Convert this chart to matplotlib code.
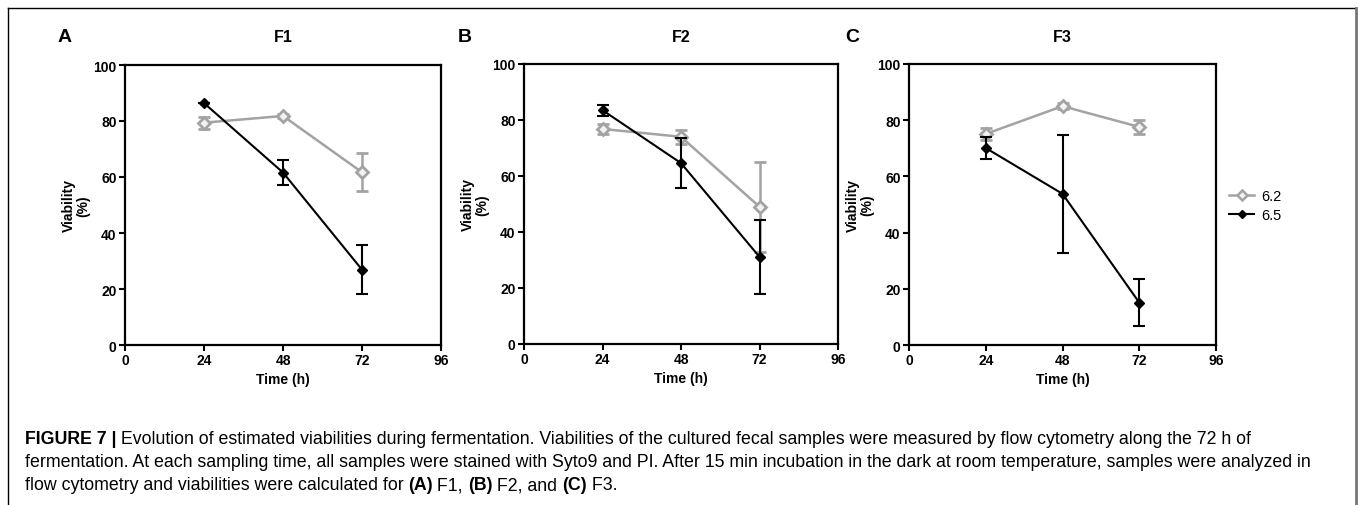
import numpy as np
import matplotlib.pyplot as plt
from matplotlib.lines import Line2D

plt.rcParams['font.family'] = ['Liberation Sans', 'DejaVu Sans']

# Data
time_h = [24, 48, 72]
panels = ['F1', 'F2', 'F3']
panel_letters = ['A', 'B', 'C']

# pH 6.2 (grey) and 6.5 (black): mean and error per panel
ph62_mean = [[79.4, 81.8, 61.7], [76.8, 74.0, 49.0], [75.1, 85.0, 77.6]]
ph62_err = [[2.1, 0.6, 6.7], [1.9, 2.5, 16.0], [2.0, 1.0, 2.5]]
ph65_mean = [[86.4, 61.6, 26.9], [83.5, 64.6, 31.1], [70.1, 53.8, 15.1]]
ph65_err = [[0.0, 4.3, 8.7], [2.0, 9.0, 13.2], [3.8, 21.0, 8.5]]
series_labels = ['6.2', '6.5']

caption_bold = 'FIGURE 7 |'
caption_lines = [
    ' Evolution of estimated viabilities during fermentation. Viabilities of the cultured fecal samples were measured by flow cytometry along the 72 h of',
    'fermentation. At each sampling time, all samples were stained with Syto9 and PI. After 15 min incubation in the dark at room temperature, samples were analyzed in',
    'flow cytometry and viabilities were calculated for',
]

W, H = 1360, 506
fig = plt.figure(figsize=(W / 100, H / 100), dpi=100)

# axes boxes in pixels: left, top, right, bottom
boxes = [(125, 66, 441, 346), (524, 65, 838, 345), (909, 65, 1216, 346)]
letter_x = [65, 465, 852]

grey = '#a3a3a3'
for i, (l, t, r, b) in enumerate(boxes):
    ax = fig.add_axes([l / W, 1 - b / H, (r - l) / W, (b - t) / H])
    ax.errorbar(time_h, ph62_mean[i], yerr=ph62_err[i], color=grey, lw=1.8,
                marker='D', ms=6.5, mfc='#f2f2f2', mec=grey, mew=2,
                capsize=4, capthick=1.8, elinewidth=1.8, zorder=2)
    ax.errorbar(time_h, ph65_mean[i], yerr=ph65_err[i], color='black', lw=1.5,
                marker='D', ms=5.5, mfc='black', mec='black',
                capsize=4, capthick=1.5, elinewidth=1.5, zorder=3)
    ax.set_xlim(0, 96)
    ax.set_ylim(0, 100)
    ax.set_xticks([0, 24, 48, 72, 96])
    ax.set_yticks([0, 20, 40, 60, 80, 100])
    for s in ax.spines.values():
        s.set_linewidth(1.6)
    ax.tick_params(direction='out', length=4, width=1.5, pad=2, labelsize=10)
    for lab in ax.get_xticklabels() + ax.get_yticklabels():
        lab.set_fontweight('bold')
    ax.set_xlabel('Time (h)', fontsize=10, fontweight='bold')
    ax.xaxis.set_label_coords(0.5, -34 / (b - t))
    ax.xaxis.label.set_va('center')
    ax.set_ylabel('Viability\n(%)', fontsize=10, fontweight='bold', linespacing=1.1)
    ax.yaxis.set_label_coords(-49 / (r - l), 0.5)
    ax.yaxis.label.set_va('center')
    fig.text((l + r) / 2 / W, 1 - 38 / H, panels[i], fontsize=11.5,
             fontweight='bold', ha='center', va='center')
    fig.text(letter_x[i] / W, 1 - 37 / H, panel_letters[i], fontsize=14,
             fontweight='bold', ha='center', va='center')
    if i == 2:
        handles = [Line2D([], [], color=grey, lw=1.8, marker='D', ms=5,
                          mfc='#f2f2f2', mec=grey, mew=1.8),
                   Line2D([], [], color='black', lw=1.5, marker='D', ms=4.5,
                          mfc='black', mec='black')]
        ax.legend(handles, series_labels, loc='center left',
                  bbox_to_anchor=(1.0, 0.495), frameon=False,
                  fontsize=10.5, handlelength=1.7, handletextpad=0.5,
                  labelspacing=0.35)

# caption
fs = 12.8
y0 = 1 - 440 / H
dy = 23 / H
t1 = fig.text(25 / W, y0, caption_bold, fontsize=fs, fontweight='bold',
              va='center', ha='left')
fig.canvas.draw()
bb = t1.get_window_extent()
fig.text(bb.x1 / W, y0, caption_lines[0], fontsize=fs, va='center', ha='left')
fig.text(25 / W, y0 - dy, caption_lines[1], fontsize=fs, va='center', ha='left')
t3 = fig.text(25 / W, y0 - 2 * dy, caption_lines[2], fontsize=fs, va='center', ha='left')
fig.canvas.draw()
x = t3.get_window_extent().x1 + 4
for part, wt in [('(A)', 'bold'), (' F1, ', 'normal'), ('(B)', 'bold'),
                 (' F2, and ', 'normal'), ('(C)', 'bold'), (' F3.', 'normal')]:
    tt = fig.text(x / W, y0 - 2 * dy, part, fontsize=fs, fontweight=wt,
                  va='center', ha='left')
    fig.canvas.draw()
    x = tt.get_window_extent().x1

# outer frame
fig.add_artist(Line2D([8 / W, 1356 / W], [1 - 9 / H, 1 - 9 / H], color='black', lw=1))
fig.add_artist(Line2D([8 / W, 8 / W], [0, 1 - 9 / H], color='black', lw=1))
fig.add_artist(Line2D([1356 / W, 1356 / W], [0, 1 - 9 / H], color='#777777', lw=2))

fig.savefig('out.png', dpi=100)
